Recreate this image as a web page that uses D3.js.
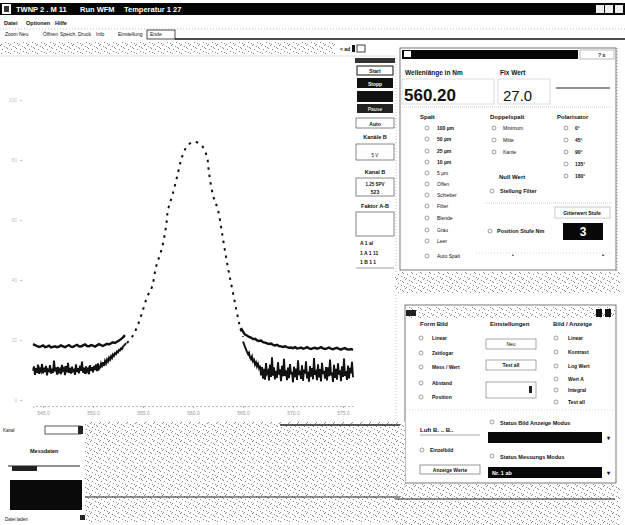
<!DOCTYPE html>
<html><head><meta charset="utf-8">
<script src="https://cdn.jsdelivr.net/npm/d3@7"></script>
<style>
html,body{margin:0;padding:0;background:#fff;}
svg{display:block;font-family:"Liberation Sans",Arial,sans-serif;}
</style></head>
<body>
<svg id="c" width="625" height="525"></svg>
<script>
// ---------------- DATA ----------------
// wavelength grid (nm) and intensity (a.u.)
const peakX = [553.4,553.9,554.4,554.9,555.4,555.9,556.3,556.9,557.3,557.5,558.0,558.5,558.9,559.5,560.2,560.9,561.4,561.6,562.0,562.5,562.9,563.3,563.6,564.0,564.4,564.7,565.0];
const peakY = [19.0,21.0,24.3,29.0,34.3,37.7,44.3,50.7,57.7,63.3,69.0,75.7,81.0,85.0,86.0,84.7,81.0,75.7,68.3,63.3,55.7,47.7,42.3,35.7,29.0,24.3,21.0];

const upperLeftStart = 544.0, upperStep = 0.2;
const upperLeft = [18.6,18.3,18.0,17.7,17.9,18.2,17.6,17.8,18.1,17.5,17.7,17.9,17.6,17.8,18.2,17.9,17.6,18.0,18.3,17.8,17.7,18.1,18.4,17.9,17.8,18.2,18.5,18.0,17.9,18.3,18.1,17.8,18.2,18.6,18.3,18.0,18.4,18.7,18.5,18.9,19.2,19.0,19.4,19.8,20.3,20.9,21.6];
const upperRightStart = 564.8;
const upperRight = [24.0,22.8,21.8,21.5,21.0,20.8,20.3,20.4,19.9,19.7,19.8,19.3,19.1,18.9,18.7,18.8,18.4,18.2,18.4,18.0,17.9,17.7,17.9,17.6,17.4,17.5,17.3,17.6,17.2,17.3,17.5,17.1,17.3,17.6,17.2,17.0,17.3,17.4,17.1,17.3,17.6,17.2,17.0,17.2,17.5,17.1,16.9,17.2,17.4,17.0,16.8,17.1,17.3,16.9,16.8,17.0,16.7];

const lowerLeftStart = 544.0, lowerStep = 0.1;
const lowerLeft = [9.8,11.2,8.4,10.6,9.1,11.8,8.7,10.3,9.5,12.0,8.9,10.8,9.3,11.4,8.2,10.1,9.7,11.6,8.8,10.4,9.0,13.1,9.6,10.9,8.5,11.0,9.4,10.2,8.6,11.7,9.9,10.5,8.3,11.3,9.2,12.4,9.0,10.7,8.8,11.1,9.6,10.0,8.4,11.9,9.3,10.6,8.9,11.5,9.7,12.8,9.1,10.8,8.7,11.2,9.5,10.3,8.6,11.6,9.8,10.9,9.2,11.4,10.0,11.9,9.6,12.2,10.3,
  10.8,12.1,10.9,12.6,11.4,13.0,12.2,13.5,12.8,14.1,13.4,14.6,14.0,15.2,14.7,15.6,15.3,16.2,15.9,16.7,16.5,17.2,17.0,17.8,18.1,18.5,19.0];
const lowerRightStart = 565.0;
const lowerRight = [19.5,18.6,17.7,16.9,16.0,15.3,15.8,14.2,13.6,14.5,12.9,13.4,11.8,12.6,11.2,12.1,10.7,11.5,
  8.2,11.0,7.1,10.4,6.8,12.3,8.9,9.6,6.5,11.8,7.7,14.2,8.1,10.9,6.9,9.7,7.4,12.6,8.5,10.2,6.3,11.4,7.9,13.7,8.0,9.9,6.6,10.8,7.3,12.0,8.6,9.4,5.9,11.1,7.6,10.5,6.7,13.2,8.3,9.8,7.0,11.6,6.4,10.1,8.8,12.9,7.2,9.5,6.1,11.3,7.8,10.6,6.9,14.0,8.4,9.2,6.6,11.9,7.5,10.3,6.2,12.4,8.7,9.7,7.1,11.0,6.5,10.9,7.9,13.5,8.2,9.1,6.0,11.7,7.4,10.4,6.8,12.2,8.5,9.9,6.3,11.2,7.7,13.8,8.0,9.6,6.7,11.5,7.2,10.7,8.9,12.7,7.6];

const xTicks = [545,550,555,560,565,570,575];
const yTicks = [0,20,40,60,80,100];

// ---------------- DRAW ----------------
const svg = d3.select("#c");
const defs = svg.append("defs");
const pat = defs.append("pattern").attr("id","dither").attr("width",9).attr("height",9).attr("patternUnits","userSpaceOnUse");
pat.append("rect").attr("width",9).attr("height",9).attr("fill","#fff");
[[0,0],[4,1],[7,3],[2,4],[5,6],[8,7],[1,8],[6,2]].forEach(p=>pat.append("rect").attr("x",p[0]).attr("y",p[1]).attr("width",1).attr("height",1).attr("fill","#8a8a8a"));

function R(x,y,w,h,fill,stroke,sw){return svg.append("rect").attr("x",x).attr("y",y).attr("width",w).attr("height",h).attr("fill",fill||"none").attr("stroke",stroke||"none").attr("stroke-width",sw||1);}
function T(x,y,s,size,opt){opt=opt||{};return svg.append("text").attr("x",x).attr("y",y).attr("font-size",size||6).attr("font-weight",opt.w||"bold").attr("fill",opt.fill||"#111").attr("text-anchor",opt.a||"start").text(s);}
function L(x1,y1,x2,y2,c,w,dash){return svg.append("line").attr("x1",x1).attr("y1",y1).attr("x2",x2).attr("y2",y2).attr("stroke",c||"#222").attr("stroke-width",w||1).attr("stroke-dasharray",dash||null);}
function radio(x,y){svg.append("circle").attr("cx",x).attr("cy",y).attr("r",2).attr("fill","none").attr("stroke","#777").attr("stroke-width",0.7);}

// title bar
R(0,3,625,12,"#050505");
R(2,4,9,10,"#fff"); R(4,6,5,6,"#333");
T(16,12,"TWNP 2 . M 11",7.5,{fill:"#fff"});
T(80,12,"Run WFM",7.5,{fill:"#fff"});
T(124,12,"Temperatur 1 27",7.5,{fill:"#fff"});
R(596,5,8,8,"#eee"); R(605,5,8,8,"#eee"); R(615,5,8,8,"#eee");
// menu
T(4,25,"Datei",5.5); T(26,25,"Optionen",5.5); T(55,25,"Hilfe",5.5);
L(0,29,625,29,"#999",0.6,"1,2");
// toolbar
const tb=["Zoom","Neu","Öffnen","Speich.","Druck","Info","Einstellung","Ende"];
const tbx=[5,19,43,60,78,96,118,150];
tb.forEach((s,i)=>T(tbx[i],36,s,5,{w:"normal"}));
R(147,30,28,9,"none","#222",0.8);
L(175,39,625,39,"#111",1.6);
// strip under toolbar
R(0,42,335,12,"url(#dither)");
T(340,51,"< ad",5); R(352,45,3,7,"#111"); R(357,45,8,7,"none","#111",0.8);
L(0,56,395,56,"#bbb",0.5);

// ---------- chart ----------
const x = d3.scaleLinear().domain([544,576]).range([33,353]);
const y = d3.scaleLinear().domain([0,100]).range([400,100]);
const xAx = svg.append("g").attr("transform","translate(0,406)").call(d3.axisBottom(x).tickValues(xTicks).tickSize(2).tickFormat(d3.format(".1f")));
xAx.selectAll("text").attr("font-size",5).attr("fill","#999");
xAx.selectAll("line").attr("stroke","#aaa");
xAx.select(".domain").attr("stroke","#bbb").attr("stroke-dasharray","2,2");
const yAx = svg.append("g").attr("transform","translate(22,0)").call(d3.axisLeft(y).tickValues(yTicks).tickSize(2));
yAx.selectAll("text").attr("font-size",5).attr("fill","#c4c4c4");
yAx.selectAll("line").attr("stroke","#bbb");
yAx.select(".domain").remove();

const line = d3.line().x(d=>x(d[0])).y(d=>y(d[1]));
const toPts = (arr,start,step)=>arr.map((v,i)=>[start+i*step,v]);
const g = svg.append("g");
g.append("path").datum(toPts(lowerLeft,lowerLeftStart,lowerStep)).attr("d",line).attr("fill","none").attr("stroke","#111").attr("stroke-width",1.9);
g.append("path").datum(toPts(lowerRight,lowerRightStart,lowerStep)).attr("d",line).attr("fill","none").attr("stroke","#111").attr("stroke-width",1.9);
g.append("path").datum(toPts(upperLeft,upperLeftStart,upperStep)).attr("d",line).attr("fill","none").attr("stroke","#111").attr("stroke-width",2.4);
g.append("path").datum(toPts(upperRight,upperRightStart,upperStep)).attr("d",line).attr("fill","none").attr("stroke","#111").attr("stroke-width",2.4);
g.append("path").datum(peakX.map((v,i)=>[v,peakY[i]])).attr("d",line.curve(d3.curveCatmullRom)).attr("fill","none").attr("stroke","#111").attr("stroke-width",2).attr("stroke-dasharray","2.5,5");

// ---------- right column of main window ----------
R(355,58,40,5,"#333");
R(357,66,36,9,"none","#111",1); T(375,73,"Start",5,{a:"middle"});
R(357,78,36,10,"#111"); T(375,86,"Stopp",5,{a:"middle",fill:"#fff"});
R(357,91,36,11,"#111");
R(357,104,36,9,"#222"); T(375,111,"Pause",5,{a:"middle",fill:"#ddd"});
R(356,118,38,10,"none","#555",0.7); T(375,126,"Auto",5,{a:"middle"});
T(375,139,"Kanäle B",5.5,{a:"middle"});
R(356,144,38,16,"none","#555",0.7); T(375,157,"5 V",4.5,{a:"middle",w:"normal"});
T(375,174,"Kanal B",5.5,{a:"middle"});
R(356,178,38,18,"none","#555",0.7); T(375,186,"1.25 SPV",4.5,{a:"middle"}); T(375,194,"523",5,{a:"middle"});
T(375,208,"Faktor A-B",5.5,{a:"middle"});
R(356,212,38,24,"none","#555",0.7);
T(360,245,"A    1 al",5); T(360,255,"1 A   1 11",5); T(360,264,"1 B  1 1",5);
L(356,268,394,268,"#666",0.6);
L(396,58,396,420,"#999",0.6,"1,2");

// ---------- dialog 1 ----------
R(400,48,216,222,"#fff","#555",0.8);
R(402,50,176,9,"#060606"); R(404,51,7,6,"#fff");
R(580,50,34,9,"#fff","#777",0.5); T(598,57,"? x",5);
L(617,48,617,290,"#777",0.8,"1,2");
T(405,75,"Wellenlänge in Nm",6.5);
R(402,79,92,25,"none","#bbb",0.5);
T(404,101,"560.20",17);
T(500,75,"Fix Wert",6.5);
R(498,79,52,25,"none","#bbb",0.5);
T(503,101,"27.0",15,{w:"normal"});
L(556,88,610,88,"#222",1);
L(402,107,612,107,"#999",0.5,"1,1");
T(420,119,"Spalt",6); T(490,119,"Doppelspalt",6); T(557,119,"Polarisator",6);
const spalt=["100 µm","50 µm","25 µm","10 µm","5 µm","Offen","Schieber","Filter","Blende","Grau","Leer","Auto Spalt"];
const spaltY=[130,141,153,164,175,186,197,208,220,232,243,258];
spalt.forEach((s,i)=>{radio(427,spaltY[i]-2); T(437,spaltY[i],s,5,{w:i<4?"bold":"normal"});});
["Minimum","Mitte","Kante"].forEach((s,i)=>{radio(494,128+i*12); T(503,130+i*12,s,5,{w:"normal"});});
["0°","45°","90°","135°","180°"].forEach((s,i)=>{radio(566,128+i*12); T(575,130+i*12,s,5);});
T(499,179,"Null Wert",6);
radio(492,191); T(500,193,"Stellung Filter",5.5);
L(485,203,612,203,"#999",0.5,"1,1");
R(555,207,55,11,"none","#999",0.5); T(582,215,"Gitterwert Stufe",5,{a:"middle"});
R(563,223,40,17,"#080808"); T(583,236,"3",12,{a:"middle",fill:"#fff"});
radio(490,231); T(497,233,"Position Stufe Nm",5.5);
L(476,253,612,253,"#aaa",0.5,"1,2"); T(512,257,"•",5); T(602,257,"•",6);
R(395,272,225,22,"url(#dither)");

// ---------- dialog 2 ----------
R(405,305,211,178,"#fff","#555",0.8);
R(406,307,209,11,"url(#dither)");
R(406,310,10,6,"#222"); R(596,309,6,8,"#111"); R(605,309,6,8,"#111");
T(420,326,"Form Bild",6); T(490,326,"Einstellungen",6); T(553,326,"Bild / Anzeige",6);
const fb=["Linear","Zeitlogar","Mess / Wert","Abstand","Position"], fbY=[340,355,369,385,399];
fb.forEach((s,i)=>{radio(421,fbY[i]-2); T(432,fbY[i],s,5);});
R(486,339,50,10,"none","#555",0.5); T(511,346,"Neu",5,{a:"middle",w:"normal"});
R(486,360,50,10,"none","#555",0.5); T(511,367,"Test all",5,{a:"middle"});
R(486,382,50,16,"none","#555",0.5); R(529,386,3,7,"#222");
const ba=["Linear","Kontrast","Log Wert","Wert A","Integral","Test all"], baY=[340,354,368,381,392,404];
ba.forEach((s,i)=>{radio(556,baY[i]-2); T(568,baY[i],s,5);});
L(406,410,615,410,"#aaa",0.5,"1,2");
T(420,432,"Luft B. .. B..",6); L(420,435,480,435,"#555",0.5);
radio(422,450); T(430,452,"Einzelbild",5);
R(420,465,60,9,"none","#555",0.6); T(450,472,"Anzeige Werte",5,{a:"middle"});
radio(492,422); T(500,425,"Status Bild Anzeige Modus",5.5);
R(488,432,114,11,"#080808"); T(608,440,"▾",6,{a:"middle"});
radio(492,456); T(500,459,"Status Messungs Modus",5.5);
R(488,467,114,11,"#080808"); T(492,475,"Nr. 1 ab",5.5,{fill:"#fff"}); T(608,475,"▾",6,{a:"middle"});

// ---------- bottom area ----------
R(85,422,320,100,"url(#dither)");
R(395,484,225,41,"url(#dither)");
L(280,425,400,425,"#222",1.5);
L(85,497,400,497,"#222",1.2);
L(395,499,615,499,"#222",1.2);
T(3,432,"Kanal",4.5,{w:"normal"}); R(45,426,36,8,"none","#333",0.8); R(78,426,5,8,"#222");
T(30,453,"Messdaten",5.5);
L(8,466,80,466,"#222",1.2); R(12,466,25,5,"#222");
R(10,480,72,30,"#0a0a0a");
T(5,521,"Datei laden",4.5,{w:"normal"}); R(80,515,5,5,"#222");
</script>
</body></html>
